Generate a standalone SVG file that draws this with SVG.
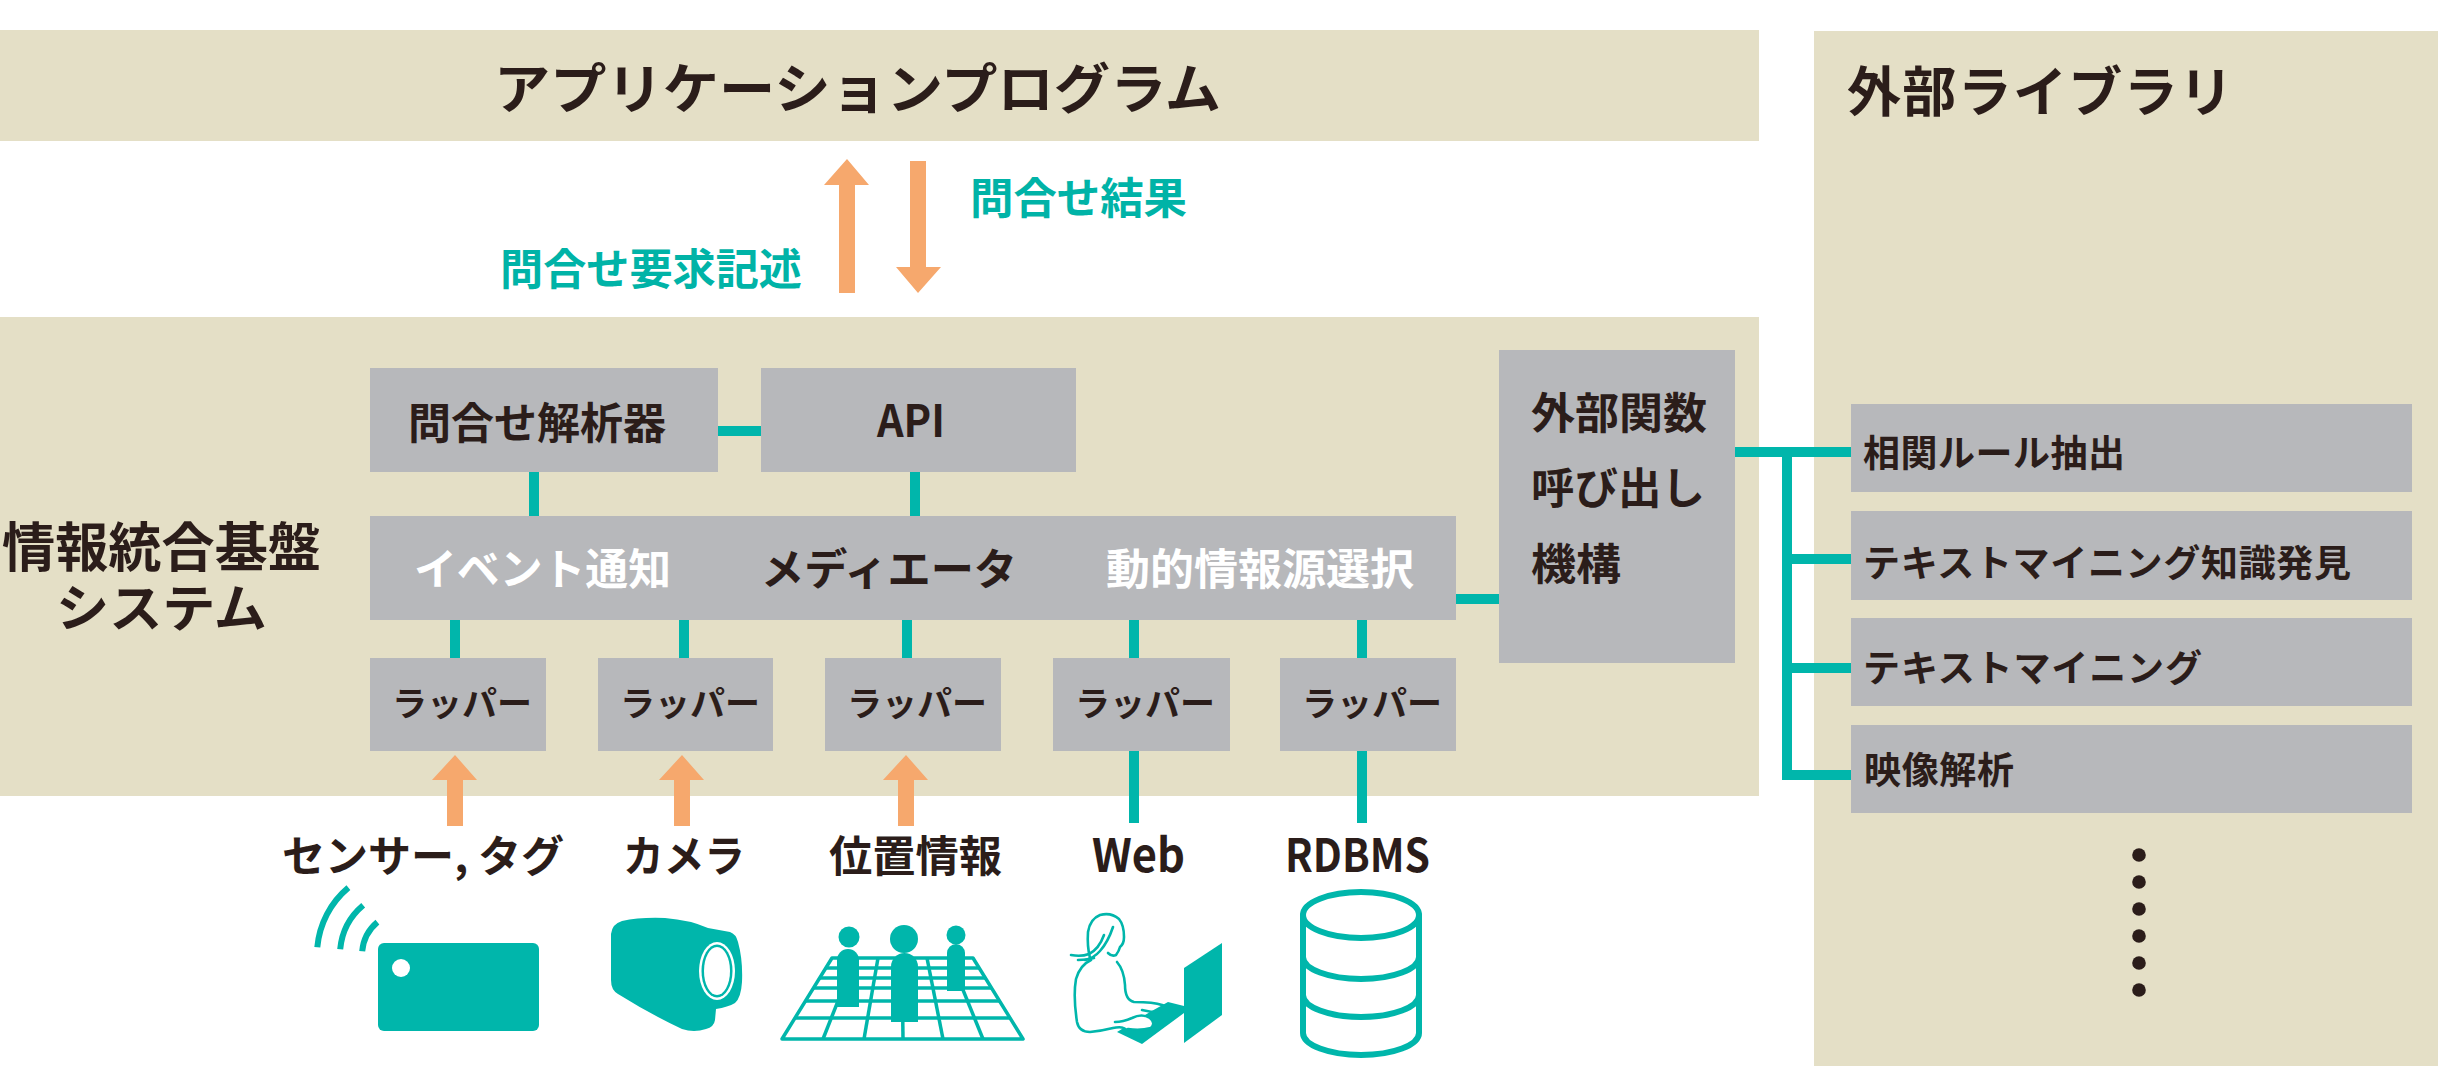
<svg xmlns="http://www.w3.org/2000/svg" width="2438" height="1066" viewBox="0 0 2438 1066">
  <defs>
    <style>
      .band { fill: #e4dfc6; }
      .box { fill: #b7b8bb; }
      .conn { stroke: #00b6ab; stroke-width: 10; fill: none; }
      .arrow { fill: #f6a86d; }
      .icon { fill: #00b6ab; }
      .line { stroke: #00b6ab; fill: none; stroke-linecap: round; stroke-linejoin: round; }
      text { font-family: "Noto Sans CJK JP", "Noto Sans", sans-serif; font-weight: 700; }
      .dark { fill: #2b1d1a; }
      .white { fill: #ffffff; }
      .teal { fill: #00b3a7; }
      .f54 { font-size: 54px; }
      .f43 { font-size: 43px; }
      .f34 { font-size: 34px; }
      .f37 { font-size: 37px; }
    </style>
  </defs>

  <!-- background bands -->
  <rect class="band" x="0" y="30" width="1759" height="111"/>
  <rect class="band" x="0" y="317" width="1759" height="479"/>
  <rect class="band" x="1814" y="31" width="624" height="1035"/>

  <!-- connectors -->
  <g id="connectors">
    <line class="conn" x1="718" y1="431" x2="761" y2="431"/>
    <line class="conn" x1="534" y1="472" x2="534" y2="516"/>
    <line class="conn" x1="915" y1="472" x2="915" y2="516"/>
    <line class="conn" x1="455" y1="620" x2="455" y2="658"/>
    <line class="conn" x1="684" y1="620" x2="684" y2="658"/>
    <line class="conn" x1="907" y1="620" x2="907" y2="658"/>
    <line class="conn" x1="1134" y1="620" x2="1134" y2="658"/>
    <line class="conn" x1="1362" y1="620" x2="1362" y2="658"/>
    <line class="conn" x1="1134" y1="751" x2="1134" y2="823"/>
    <line class="conn" x1="1362" y1="751" x2="1362" y2="823"/>
    <line class="conn" x1="1456" y1="599" x2="1499" y2="599"/>
    <line class="conn" x1="1735" y1="452" x2="1851" y2="452"/>
    <polyline class="conn" points="1787,452 1787,775 1851,775"/>
    <line class="conn" x1="1787" y1="559" x2="1851" y2="559"/>
    <line class="conn" x1="1787" y1="668" x2="1851" y2="668"/>
    <!-- query arrows -->
    <path class="arrow" d="M839 293 V185 H824 L847 159 L869 185 H855 V293 Z"/>
    <path class="arrow" d="M910 161 V267 H896 L918 293 L941 267 H926 V161 Z"/>
    <!-- input arrows into wrappers -->
    <path class="arrow" d="M447 826 V780 H432 L455 755 L477 780 H463 V826 Z"/>
    <path class="arrow" d="M674 826 V780 H659 L682 755 L704 780 H690 V826 Z"/>
    <path class="arrow" d="M898 826 V780 H883 L906 755 L928 780 H914 V826 Z"/>
  </g>

  <!-- application program -->
  <g id="app">
    <text class="dark f54" x="494" y="109" textLength="727" lengthAdjust="spacingAndGlyphs">アプリケーションプログラム</text>
  </g>
  <text class="teal f43" x="970" y="214" textLength="217" lengthAdjust="spacingAndGlyphs">問合せ結果</text>
  <text class="teal f43" x="500" y="285" textLength="302" lengthAdjust="spacingAndGlyphs">問合せ要求記述</text>

  <!-- platform label -->
  <g id="platform">
    <text class="dark" style="font-size:53px" x="2" y="567" textLength="319" lengthAdjust="spacingAndGlyphs">情報統合基盤</text>
    <text class="dark" style="font-size:51px" x="56" y="627" textLength="211" lengthAdjust="spacingAndGlyphs">システム</text>
  </g>

  <g id="query-analyzer">
    <rect class="box" x="370" y="368" width="348" height="104"/>
    <text class="dark f43" x="408" y="439" textLength="258" lengthAdjust="spacingAndGlyphs">問合せ解析器</text>
  </g>
  <g id="api">
    <rect class="box" x="761" y="368" width="315" height="104"/>
    <text class="dark" style="font-size:45px" x="877" y="437" textLength="68" lengthAdjust="spacingAndGlyphs">API</text>
  </g>

  <g id="core-bar">
    <rect class="box" x="370" y="516" width="1086" height="104"/>
    <text class="white f43" x="414" y="585" textLength="257" lengthAdjust="spacingAndGlyphs">イベント通知</text>
    <text class="dark f43" x="761" y="585" textLength="256" lengthAdjust="spacingAndGlyphs">メディエータ</text>
    <text class="white f43" x="1106" y="585" textLength="308" lengthAdjust="spacingAndGlyphs">動的情報源選択</text>
  </g>

  <g id="external-call">
    <rect class="box" x="1499" y="350" width="236" height="313"/>
    <text class="dark f43" x="1531" y="429" textLength="176" lengthAdjust="spacingAndGlyphs">外部関数</text>
    <text class="dark f43" x="1531" y="504" textLength="174" lengthAdjust="spacingAndGlyphs">呼び出し</text>
    <text class="dark f43" x="1531" y="580" textLength="90" lengthAdjust="spacingAndGlyphs">機構</text>
  </g>

  <!-- wrappers -->
  <g id="wrapper-1">
    <rect class="box" x="370" y="658" width="176" height="93"/>
    <text class="dark f34" x="392" y="716" textLength="140" lengthAdjust="spacingAndGlyphs">ラッパー</text>
  </g>
  <g id="wrapper-2">
    <rect class="box" x="598" y="658" width="175" height="93"/>
    <text class="dark f34" x="620" y="716" textLength="140" lengthAdjust="spacingAndGlyphs">ラッパー</text>
  </g>
  <g id="wrapper-3">
    <rect class="box" x="825" y="658" width="176" height="93"/>
    <text class="dark f34" x="847" y="716" textLength="140" lengthAdjust="spacingAndGlyphs">ラッパー</text>
  </g>
  <g id="wrapper-4">
    <rect class="box" x="1053" y="658" width="177" height="93"/>
    <text class="dark f34" x="1075" y="716" textLength="140" lengthAdjust="spacingAndGlyphs">ラッパー</text>
  </g>
  <g id="wrapper-5">
    <rect class="box" x="1280" y="658" width="176" height="93"/>
    <text class="dark f34" x="1302" y="716" textLength="140" lengthAdjust="spacingAndGlyphs">ラッパー</text>
  </g>

  <!-- data sources -->
  <g id="source-sensor">
    <text class="dark f43" x="282" y="872" textLength="282" lengthAdjust="spacingAndGlyphs">センサー, タグ</text>
    <rect class="icon" x="378" y="943" width="161" height="88" rx="6"/>
    <circle cx="401" cy="968" r="9" fill="#ffffff"/>
    <g class="line" style="stroke-width:6;stroke-linecap:butt">
      <path d="M362.2 951.3 A43 43 0 0 1 377.4 922.1"/>
      <path d="M340.2 949.3 A65 65 0 0 1 363.2 905.2"/>
      <path d="M317.3 947.3 A88 88 0 0 1 348.4 887.6"/>
    </g>
  </g>

  <g id="source-camera">
    <text class="dark f43" x="623" y="872" textLength="122" lengthAdjust="spacingAndGlyphs">カメラ</text>
    <path class="icon" d="M611 934 Q612 924 622 921 Q640 917 665 918 Q690 920 708 928 L730 932 Q736 934 738 942 Q743 960 742 982 Q741 998 735 1003 Q728 1007 716 1009 L715 1020 Q714 1027 706 1029 Q694 1033 682 1029 Q650 1014 618 994 Q611 990 611 980 Z"/>
    <ellipse cx="717" cy="971" rx="18" ry="29" fill="#ffffff"/>
    <ellipse cx="717" cy="971" rx="15.5" ry="26.5" fill="#00b6ab"/>
    <ellipse cx="717" cy="971" rx="13" ry="24" fill="#ffffff"/>
  </g>

  <g id="source-location">
    <text class="dark f43" x="829" y="872" textLength="173" lengthAdjust="spacingAndGlyphs">位置情報</text>
    <g class="line" style="stroke-width:3.5;stroke-linecap:butt">
      <polygon points="832,958 973,958 1023,1039 782,1039"/>
      <line x1="826" y1="968" x2="979" y2="968"/>
      <line x1="820" y1="978" x2="985" y2="978"/>
      <line x1="814" y1="988" x2="992" y2="988"/>
      <line x1="806" y1="1001" x2="1000" y2="1001"/>
      <line x1="795" y1="1018" x2="1010" y2="1018"/>
      <line x1="855" y1="958" x2="823" y2="1039"/>
      <line x1="878" y1="958" x2="864" y2="1039"/>
      <line x1="902" y1="958" x2="903" y2="1039"/>
      <line x1="927" y1="958" x2="943" y2="1039"/>
      <line x1="950" y1="958" x2="983" y2="1039"/>
    </g>
    <circle class="icon" cx="849" cy="937" r="10.5"/>
    <path class="icon" d="M837 1007 V960 A11 11 0 0 1 859 960 V1007 Z"/>
    <circle class="icon" cx="904" cy="939" r="14"/>
    <path class="icon" d="M891 1022 V966.5 A13.5 13.5 0 0 1 918 966.5 V1022 Z"/>
    <circle class="icon" cx="956" cy="935" r="9.5"/>
    <path class="icon" d="M947 991 V953 A9 9 0 0 1 965 953 V991 Z"/>
  </g>

  <g id="source-web">
    <text class="dark" style="font-size:46px" x="1092" y="872" textLength="93" lengthAdjust="spacingAndGlyphs">Web</text>
    <polygon class="icon" points="1184,968 1222,943 1222,1015 1184,1043"/>
    <polygon class="icon" points="1117,1032 1142,1044 1184,1013 1184,1006 1168,1002 1150,1012"/>
    <g class="line" style="stroke-width:2.6">
      <path d="M1108 953 Q1112 957 1116 955 Q1119 951 1120 947 Q1124 944 1124 937 Q1124 925 1119 919 Q1111 912 1100 915 Q1090 919 1088 932 Q1087 946 1090 958"/>
      <path d="M1113 927 Q1108 942 1100 951 Q1094 958 1085 960"/>
      <path d="M1104 935 Q1099 949 1089 954 Q1081 957 1071 955"/>
      <path d="M1078 960 Q1087 960 1094 958"/>
      <path d="M1091 960 Q1080 965 1076 979 Q1073 996 1077 1022 Q1079 1032 1090 1032 Q1101 1031 1113 1028 Q1121 1026 1128 1029"/>
      <path d="M1117 962 Q1124 970 1125 985 Q1125 1000 1134 1002 Q1154 1002 1162 1005 Q1166 1007 1172 1006"/>
      <path d="M1142 1010 Q1153 1013 1168 1012"/>
      <path d="M1115 1022 Q1123 1022 1132 1018 Q1142 1013 1150 1018 Q1156 1023 1151 1028 Q1140 1031 1128 1029" fill="#ffffff"/>
    </g>
  </g>

  <g id="source-rdbms">
    <text class="dark" style="font-size:46px" x="1285" y="872" textLength="145" lengthAdjust="spacingAndGlyphs">RDBMS</text>
    <g class="line" style="stroke-width:6">
      <ellipse cx="1361" cy="915" rx="58" ry="23"/>
      <path d="M1303 915 V1033 A58 22 0 0 0 1419 1033 V915"/>
      <path d="M1303 957 A58 22 0 0 0 1419 957"/>
      <path d="M1303 995 A58 22 0 0 0 1419 995"/>
    </g>
  </g>

  <!-- external libraries -->
  <g id="library-title">
    <text class="dark f54" x="1847" y="112" textLength="386" lengthAdjust="spacing">外部ライブラリ</text>
  </g>
  <g id="lib-association">
    <rect class="box" x="1851" y="404" width="561" height="88"/>
    <text class="dark f37" x="1863" y="467" textLength="262" lengthAdjust="spacing">相関ルール抽出</text>
  </g>
  <g id="lib-text-discovery">
    <rect class="box" x="1851" y="511" width="561" height="89"/>
    <text class="dark f37" x="1863" y="577" textLength="488" lengthAdjust="spacing">テキストマイニング知識発見</text>
  </g>
  <g id="lib-text-mining">
    <rect class="box" x="1851" y="618" width="561" height="88"/>
    <text class="dark f37" x="1863" y="682" textLength="339" lengthAdjust="spacing">テキストマイニング</text>
  </g>
  <g id="lib-video">
    <rect class="box" x="1851" y="725" width="561" height="88"/>
    <text class="dark f37" x="1864" y="784" textLength="150" lengthAdjust="spacing">映像解析</text>
  </g>
  <g id="lib-more" fill="#2b1d1a">
    <circle cx="2139" cy="855" r="6.8"/>
    <circle cx="2139" cy="882" r="6.8"/>
    <circle cx="2139" cy="909" r="6.8"/>
    <circle cx="2139" cy="936" r="6.8"/>
    <circle cx="2139" cy="963" r="6.8"/>
    <circle cx="2139" cy="990" r="6.8"/>
  </g>
</svg>
